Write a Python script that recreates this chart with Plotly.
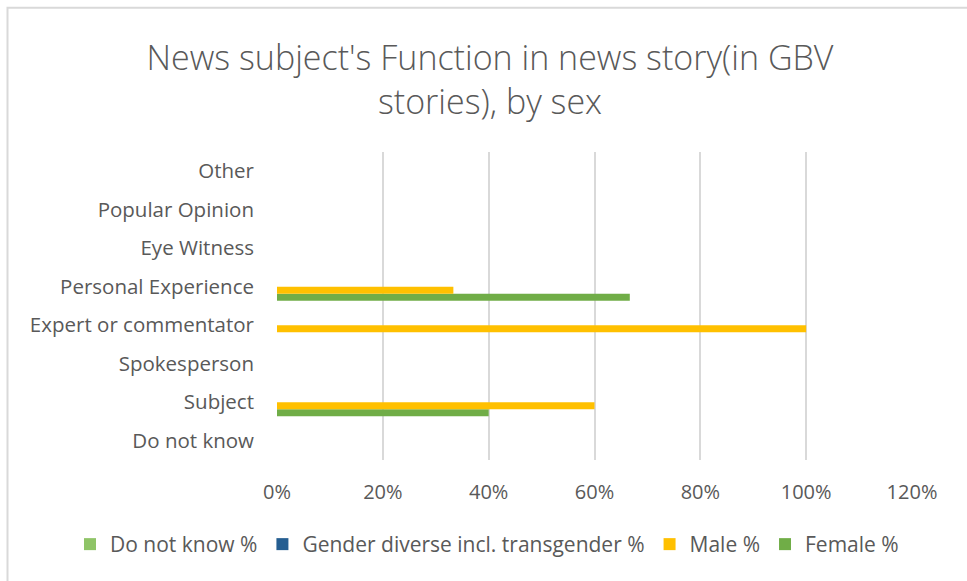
import plotly.graph_objects as go

categories = ["Do not know", "Subject", "Spokesperson", "Expert or commentator",
              "Personal Experience", "Eye Witness", "Popular Opinion", "Other"]
female = [None, 0.40, None, None, 0.6667, None, None, None]
male = [None, 0.60, None, 1.00, 0.3333, None, None, None]
gender_diverse = [None] * 8
do_not_know = [None] * 8

series = [
    ("Female %", female, "#70AD47"),
    ("Male %", male, "#FFC000"),
    ("Gender diverse incl. transgender %", gender_diverse, "#255E91"),
    ("Do not know %", do_not_know, "#8FC467"),
]

W, H = 967, 581
L, R, T, B = 277, 55, 151.5, 120.7
pw, ph = W - L - R, H - T - B

fig = go.Figure()
for name, vals, color in series:
    fig.add_trace(go.Bar(
        y=categories, x=vals, name=name, orientation="h",
        marker=dict(color=color, line=dict(width=0)),
    ))

font_family = "'Open Sans', sans-serif"
fig.update_layout(
    width=W, height=H,
    margin=dict(l=L, r=R, t=T, b=B),
    barmode="group", bargap=0.27, bargroupgap=0,
    plot_bgcolor="white", paper_bgcolor="white",
    font=dict(family=font_family, color="#595959", size=20),
    title=dict(
        text="News subject's Function in news story(in GBV<br>stories), by sex",
        x=490 / W, xref="container", xanchor="center",
        y=1 - 70 / H, yanchor="middle",
        font=dict(size=34, color="#595959", family=font_family, weight=300),
    ),
    xaxis=dict(
        range=[0, 1.2], tickvals=[0, 0.2, 0.4, 0.6, 0.8, 1.0, 1.2],
        tickformat=".0%", showgrid=True, gridcolor="#D9D9D9", gridwidth=1.5,
        zeroline=False, showline=False, ticks="", tickfont=dict(size=20),
        ticklabelstandoff=18, fixedrange=True,
    ),
    yaxis=dict(
        categoryorder="array", categoryarray=categories,
        showgrid=False, zeroline=False, showline=False, ticks="",
        ticklabelstandoff=22, tickfont=dict(size=20.5), fixedrange=True,
    ),
    legend=dict(
        orientation="h", traceorder="reversed",
        x=(70 - L) / pw, xanchor="left",
        y=(H - B - 545) / ph, yanchor="middle",
        font=dict(size=21, color="#595959"),
        itemwidth=30, itemsizing="constant",
    ),
    showlegend=True,
)

# light chart frame along the top and left edges
fig.add_shape(
    type="rect", xref="paper", yref="paper",
    x0=(7.5 - L) / pw, x1=(W + 10 - L) / pw,
    y0=(H - B - (H + 10)) / ph, y1=(H - B - 7) / ph,
    line=dict(color="#D9D9D9", width=2), layer="below",
)

fig.write_html("out.html")
